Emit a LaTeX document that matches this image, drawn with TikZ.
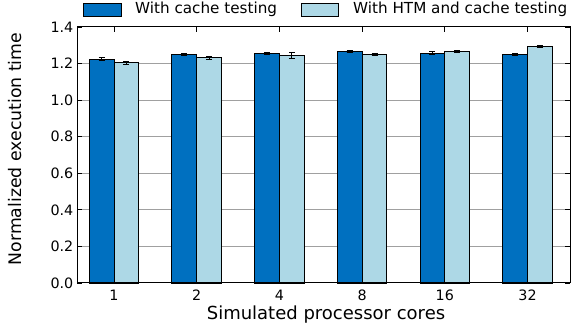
\documentclass[tikz,border=0pt]{standalone}
\usepackage{fontspec}
\setmainfont{DejaVu Sans}
\definecolor{darkbar}{RGB}{0,112,192}
\definecolor{lightbar}{RGB}{173,216,230}
\definecolor{gridgray}{RGB}{160,160,160}
\tikzset{
  barA/.style={draw=black, line width=0.9pt, fill=darkbar},
  barB/.style={draw=black, line width=0.9pt, fill=lightbar},
  gridline/.style={draw=gridgray, line width=0.8pt},
  spine/.style={draw=black, line width=1pt},
  tickmark/.style={draw=black, line width=0.8pt},
  errbar/.style={draw=black, line width=0.8pt},
  ticklabel/.style={font=\fontsize{14.3}{16}\selectfont, inner sep=0pt},
  axislabel/.style={font=\fontsize{18}{20}\selectfont, inner sep=0pt},
  legendtext/.style={font=\fontsize{15.2}{17}\selectfont, inner sep=0pt, anchor=west},
}
\begin{document}
\begin{tikzpicture}[x=1pt,y=1pt]
\useasboundingbox (0,0) rectangle (571,329);
% plot frame: x from 77 to 570, y from 46 (value 0) to 302 (value 1.4)
\def\yscl{182.86}
\def\ybase{46}
% horizontal grid lines
\foreach \v in {0.2,0.4,0.6,0.8,1.0,1.2}{
  \draw[gridline] (77,{\ybase+\v*\yscl}) -- (570,{\ybase+\v*\yscl});
}
% bars with error bars: index, value A, err A, value B, err B
\foreach \i/\va/\ea/\vb/\eb in {0/1.225/0.006/1.205/0.007, 1/1.250/0.008/1.232/0.008, 2/1.255/0.004/1.243/0.016, 3/1.266/0.004/1.251/0.004, 4/1.258/0.007/1.267/0.007, 5/1.250/0.003/1.293/0.006}{
  \pgfmathsetmacro{\c}{114+82.7*\i}
  \draw[barA] ({\c-24.8},\ybase) rectangle (\c,{\ybase+\va*\yscl});
  \draw[barB] (\c,\ybase) rectangle ({\c+24.8},{\ybase+\vb*\yscl});
  \draw[errbar] ({\c-12.4},{\ybase+(\va-\ea)*\yscl}) -- ({\c-12.4},{\ybase+(\va+\ea)*\yscl})
    ({\c-15.4},{\ybase+(\va-\ea)*\yscl}) -- ({\c-9.4},{\ybase+(\va-\ea)*\yscl})
    ({\c-15.4},{\ybase+(\va+\ea)*\yscl}) -- ({\c-9.4},{\ybase+(\va+\ea)*\yscl});
  \draw[errbar] ({\c+12.4},{\ybase+(\vb-\eb)*\yscl}) -- ({\c+12.4},{\ybase+(\vb+\eb)*\yscl})
    ({\c+9.4},{\ybase+(\vb-\eb)*\yscl}) -- ({\c+15.4},{\ybase+(\vb-\eb)*\yscl})
    ({\c+9.4},{\ybase+(\vb+\eb)*\yscl}) -- ({\c+15.4},{\ybase+(\vb+\eb)*\yscl});
}
% y ticks (inside on both sides) and labels
\foreach \v/\t in {0.0/0.0,0.2/0.2,0.4/0.4,0.6/0.6,0.8/0.8,1.0/1.0,1.2/1.2,1.4/1.4}{
  \draw[tickmark] (77,{\ybase+\v*\yscl}) -- (82,{\ybase+\v*\yscl});
  \draw[tickmark] (570,{\ybase+\v*\yscl}) -- (565,{\ybase+\v*\yscl});
  \node[ticklabel, anchor=east] (yl\t) at (73.5,{\ybase+\v*\yscl}) {\t};
}
% x ticks (inside, top) and labels
\foreach \i/\t in {0/1,1/2,2/4,3/8,4/16,5/32}{
  \pgfmathsetmacro{\c}{114+82.7*\i}
  \draw[tickmark] (\c,302) -- (\c,297);
  \node[ticklabel] (xl\i) at (\c,34) {\t};
}
% frame
\draw[spine] (77,46) rectangle (570,302);
% axis titles
\node[axislabel] (xtitle) at (326,14.5) {Simulated processor cores};
\node[axislabel, font=\fontsize{17.3}{20}\selectfont, rotate=90] (ytitle) at (15,180) {Normalized execution time};
% legend
\node[draw=black, line width=0.9pt, fill=darkbar, minimum width=38pt, minimum height=13pt, inner sep=0pt, anchor=west] (legA) at (83,319) {};
\node[legendtext] (legAt) at (135,319.5) {With cache testing};
\node[draw=black, line width=0.9pt, fill=lightbar, minimum width=37pt, minimum height=13pt, inner sep=0pt, anchor=west] (legB) at (301,319) {};
\node[legendtext] (legBt) at (353,319.5) {With HTM and cache testing};
\end{tikzpicture}
\end{document}
